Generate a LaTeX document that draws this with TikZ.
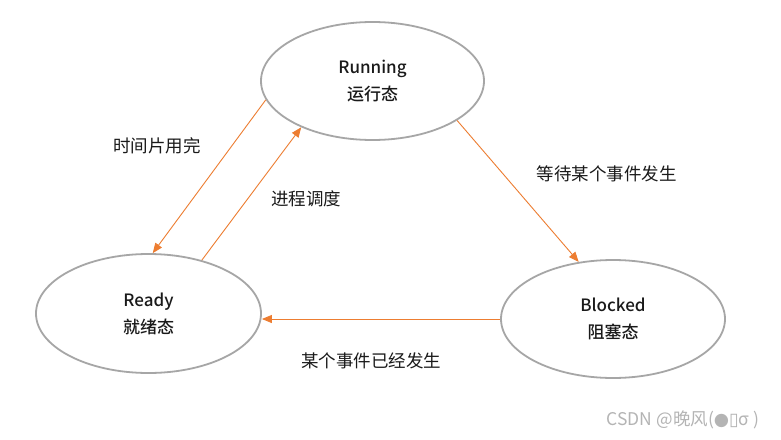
\documentclass[tikz,border=0pt]{standalone}
\usepackage{fontspec}
\setmainfont{Noto Sans CJK SC}[BoldFont={Noto Sans CJK SC Medium}]
\newfontfamily\symfont{DejaVu Sans}
\usetikzlibrary{arrows.meta,shapes.geometric}
\definecolor{edgegrey}{HTML}{A6A6A6}
\definecolor{arrorange}{HTML}{ED7D31}
\definecolor{wmgrey}{HTML}{B4B4B4}
\definecolor{txtblack}{HTML}{1A1A1A}
\begin{document}
\begin{tikzpicture}[x=1pt,y=-1pt,
  state/.style={ellipse, draw=edgegrey, line width=1.8pt, inner sep=0pt, align=center,
    text=txtblack, font=\fontsize{17}{27}\selectfont\bfseries},
  trans/.style={draw=arrorange, line width=0.9pt, -{Triangle[length=10pt,width=8pt]}},
  lbl/.style={font=\fontsize{17.5}{20}\selectfont, inner sep=0pt, text=txtblack},
  wm/.style={font=\fontsize{17.5}{20}\selectfont, inner sep=0pt, text=wmgrey}]
\fill[white] (0,0) rectangle (781,439);
\useasboundingbox (0,0) rectangle (781,439);

\node[state, minimum width=223pt, minimum height=118pt] (run) at (372.5,81) {Running\\运行态};
\node[state, minimum width=225pt, minimum height=119pt] (rdy) at (148.5,313.5) {Ready\\就绪态};
\node[state, minimum width=224pt, minimum height=118pt] (blk) at (613,319) {Blocked\\阻塞态};

\draw[trans] (run.190) -- (rdy.86);
\draw[trans] (rdy.45) -- (run.213);
\draw[trans] (run.-25) -- (blk.121);
\draw[trans] (blk.west) -- (blk.west -| rdy.east);

\node[lbl] (l1) at (157,146) {时间片用完};
\node[lbl] (l2) at (306,199) {进程调度};
\node[lbl] (l3) at (606.5,174) {等待某个事件发生};
\node[lbl] (l4) at (371,361) {某个事件已经发生};

\node[wm] (wmk) at (683,420) {CSDN @晚风({\symfont ●▯}σ )};
\end{tikzpicture}
\end{document}
